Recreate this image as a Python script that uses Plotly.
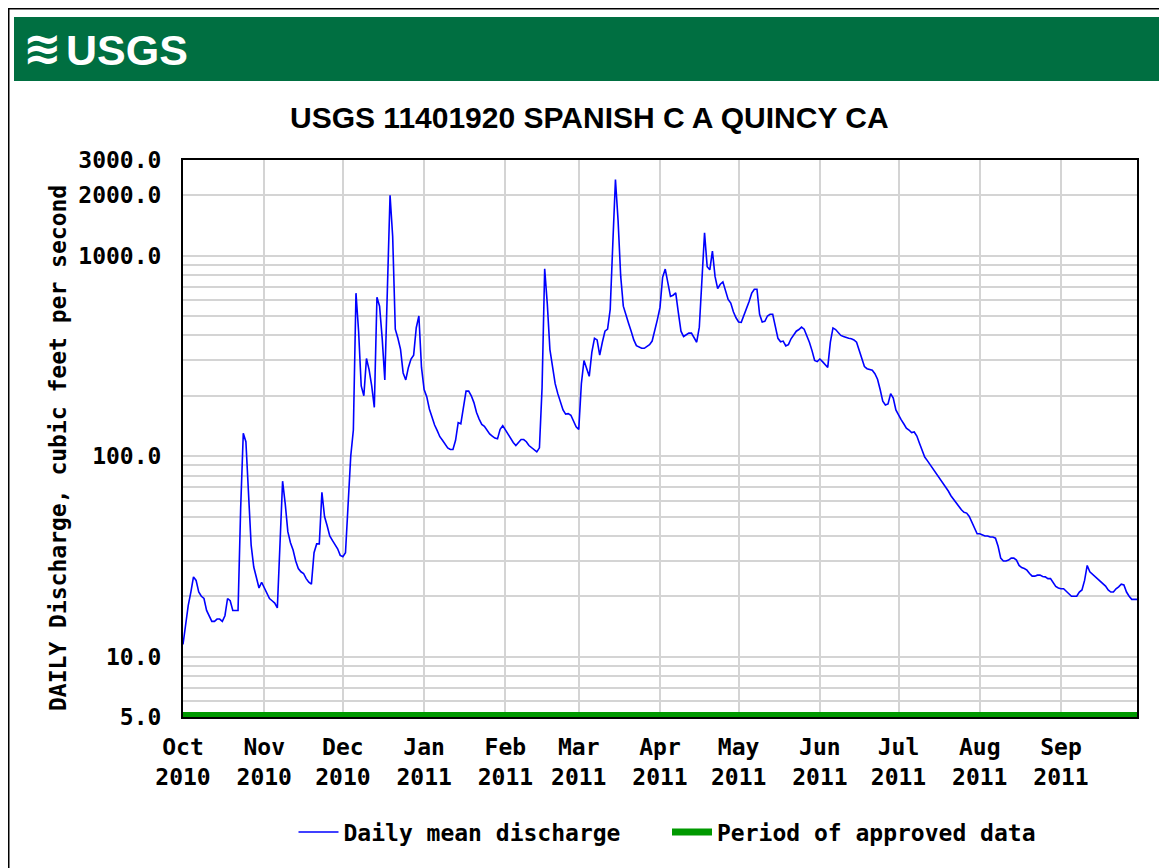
import numpy as np
import pandas as pd
import plotly.graph_objects as go

# ---------------- data (daily mean discharge, cfs, water year 2011) ----------------
oct_2010 = [11.5, 14.5, 18, 21, 25, 24, 21, 20, 19.5, 17, 16, 15, 15, 15.4, 15.4, 15, 16, 19.5, 19, 17,
            17, 17, 55, 130, 118, 68, 36, 28, 24.5, 22, 23.5]
nov_2010 = [22, 20.5, 19.5, 19, 18.5, 17.5, 40, 75, 58, 42, 37, 34, 30, 27.5, 26.5, 26, 24.5, 23.5, 23, 33,
            36.5, 36.5, 66, 50, 45, 40, 38, 36, 34.5, 32]
dec_2010 = [31.5, 33, 55, 100, 135, 650, 420, 224, 200, 307, 270, 224, 175, 620, 560, 387, 240, 700, 2000, 1250,
            430, 387, 341, 260, 240, 277, 305, 319, 437, 500, 277]
jan_2011 = [215, 198, 172, 155, 143, 134, 125, 120, 115, 110, 108, 108, 120, 147, 145, 175, 211, 211, 200, 185,
            165, 153, 144, 141, 135, 129, 126, 123, 122, 136, 142]
feb_2011 = [135, 128, 122, 117, 113, 117, 121, 121, 118, 113, 110, 108, 105, 110, 219, 860, 575, 340, 282, 230,
            205, 186, 170, 162, 163, 160, 148, 140]
mar_2011 = [136, 230, 300, 275, 250, 330, 387, 380, 319, 370, 420, 430, 540, 1150, 2400, 1500, 790, 560, 500, 460,
            420, 380, 356, 349, 345, 345, 353, 360, 375, 420, 480]
apr_2011 = [552, 780, 857, 720, 626, 635, 652, 520, 420, 395, 405, 411, 411, 387, 370, 440, 800, 1300, 880, 850,
            1055, 788, 685, 720, 740, 660, 605, 580, 525, 490]
may_2011 = [467, 465, 500, 540, 590, 650, 680, 680, 510, 467, 470, 500, 510, 510, 450, 387, 372, 375, 355, 360,
            385, 405, 420, 428, 440, 430, 400, 370, 336, 300, 296]
jun_2011 = [305, 296, 285, 277, 370, 436, 428, 412, 400, 395, 390, 387, 385, 380, 370, 340, 312, 280, 273, 271,
            268, 258, 242, 215, 188, 180, 182, 205, 195, 170]
jul_2011 = [160, 152, 145, 138, 135, 131, 132, 126, 116, 106, 99, 95, 91, 87, 83, 80, 76, 73, 70, 67,
            63.5, 61, 59, 56, 54, 52.5, 52, 50, 46.5, 43.5, 41]
aug_2011 = [41, 40.5, 40, 40, 39.5, 39.5, 39, 35.5, 31, 30, 30, 30.3, 31, 31, 30.3, 28.5, 27.8, 27.5, 27, 26,
            25.2, 25.2, 25.5, 25.5, 25.1, 25, 24.5, 24.5, 23.5, 22.4, 22]
sep_2011 = [21.8, 21.8, 21.3, 20.6, 20, 20, 20, 21, 21.5, 24, 28.5, 26.5, 25.8, 25.3, 24.6, 24, 23.2, 22.5, 21.5, 21,
            21, 21.8, 22.3, 23, 22.8, 21, 20, 19.3, 19.3, 19.3]

discharge = (oct_2010 + nov_2010 + dec_2010 + jan_2011 + feb_2011 + mar_2011 +
             apr_2011 + may_2011 + jun_2011 + jul_2011 + aug_2011 + sep_2011)
dates = pd.date_range("2010-10-01", "2011-09-30", freq="D")

approved_start = "2010-10-01"
approved_end = "2011-09-30"
approved_level = [5, 5]

month_ticks = ["2010-10-01", "2010-11-01", "2010-12-01", "2011-01-01", "2011-02-01", "2011-03-01",
               "2011-04-01", "2011-05-01", "2011-06-01", "2011-07-01", "2011-08-01", "2011-09-01"]
month_labels = ["Oct<br>2010", "Nov<br>2010", "Dec<br>2010", "Jan<br>2011", "Feb<br>2011", "Mar<br>2011",
                "Apr<br>2011", "May<br>2011", "Jun<br>2011", "Jul<br>2011", "Aug<br>2011", "Sep<br>2011"]

y_grid_vals = [5, 6, 7, 8, 9, 10, 20, 30, 40, 50, 60, 70, 80, 90,
               100, 200, 300, 400, 500, 600, 700, 800, 900, 1000, 2000, 3000]
y_labeled = {5: "5.0", 10: "10.0", 100: "100.0", 1000: "1000.0", 2000: "2000.0", 3000: "3000.0"}
y_grid_text = [y_labeled.get(v, "") for v in y_grid_vals]

title_text = "USGS 11401920 SPANISH C A QUINCY CA"
y_title = "DAILY Discharge, cubic feet per second"
legend_names = ["Daily mean discharge", "Period of approved data"]

# ---------------- figure ----------------
# the page body has an 8px margin, so the figure is laid out 8px smaller
OFF = 8
W, H = 1167 - OFF, 868 - OFF
L, R, T, B = 183 - OFF, 30, 160 - OFF, 151
PW, PH = W - L - R, H - T - B


def px_x(page_px):
    return (page_px - OFF - L) / PW


def px_y(page_py):
    return (H - B - (page_py - OFF)) / PH


mono = "DejaVu Sans Mono"
sans = "Liberation Sans, Arial, sans-serif"
FS = 23

fig = go.Figure()
fig.add_trace(go.Scatter(
    x=[approved_start, approved_end], y=approved_level, mode="lines",
    line=dict(color="#009900", width=10), name=legend_names[1],
    showlegend=False, hoverinfo="skip"))
fig.add_trace(go.Scatter(
    x=dates, y=discharge, mode="lines",
    line=dict(color="#0000FF", width=1.6), name=legend_names[0] + "\u00a0\u00a0\u00a0"))
# legend entry for the approved period (thick green sample)
fig.add_trace(go.Scatter(
    x=[None], y=[None], mode="lines",
    line=dict(color="#009900", width=7), name=legend_names[1]))

fig.update_layout(
    width=W, height=H,
    margin=dict(l=L, r=R, t=T, b=B, autoexpand=False),
    paper_bgcolor="white", plot_bgcolor="white",
    font=dict(family=mono, size=FS, color="black", weight="bold"),
    showlegend=True,
    legend=dict(orientation="h", x=px_x(667), xanchor="center", y=px_y(832), yanchor="middle",
                font=dict(family=mono, size=FS, color="black", weight="bold"),
                itemwidth=40, bgcolor="rgba(0,0,0,0)", traceorder="normal"),
)

fig.update_xaxes(
    type="date", range=["2010-10-01", "2011-09-30"],
    tickvals=month_ticks, ticktext=month_labels, tickangle=0,
    showgrid=True, gridcolor="#d4d4d4", gridwidth=2,
    showline=True, linecolor="black", linewidth=2, mirror=True,
    ticks="", ticklabelstandoff=8,
    tickfont=dict(family=mono, size=FS, color="black", weight="bold"),
    zeroline=False, fixedrange=True,
)
fig.update_yaxes(
    type="log", range=[np.log10(5), np.log10(3000)],
    tickvals=y_grid_vals, ticktext=y_grid_text,
    showgrid=True, gridcolor="#d4d4d4", gridwidth=2,
    showline=True, linecolor="black", linewidth=2, mirror=True,
    ticks="", ticklabelstandoff=15,
    tickfont=dict(family=mono, size=FS, color="black", weight="bold"),
    zeroline=False, fixedrange=True,
)

# y-axis title placed as rotated text
fig.add_annotation(xref="paper", yref="paper", x=px_x(58), y=px_y(448),
                   text=y_title, showarrow=False, textangle=-90,
                   xanchor="center", yanchor="middle",
                   font=dict(family=mono, size=FS, color="black", weight="bold"))

# outer frame and green header band
fig.add_shape(type="rect", xref="paper", yref="paper",
              x0=px_x(OFF + 0.75), x1=px_x(1165), y0=px_y(890), y1=px_y(OFF + 0.75),
              line=dict(color="black", width=1.5), fillcolor="rgba(0,0,0,0)", layer="below")
fig.add_shape(type="rect", xref="paper", yref="paper",
              x0=px_x(14), x1=px_x(1160), y0=px_y(81), y1=px_y(17),
              line=dict(width=0), fillcolor="#006F41", layer="below")

# logo
fig.add_annotation(xref="paper", yref="paper", x=px_x(42), y=px_y(48),
                   text="≋", showarrow=False, xanchor="center", yanchor="middle",
                   font=dict(family="DejaVu Sans", size=46, color="white", weight="bold"))
fig.add_annotation(xref="paper", yref="paper", x=px_x(64), y=px_y(50),
                   text="USGS", showarrow=False, xanchor="left", yanchor="middle",
                   font=dict(family=sans, size=43, color="white", weight="bold"))
# title
fig.add_annotation(xref="paper", yref="paper", x=px_x(589), y=px_y(117),
                   text=title_text, showarrow=False, xanchor="center", yanchor="middle",
                   font=dict(family=sans, size=30, color="black", weight="bold"))

fig.write_html("out.html")
